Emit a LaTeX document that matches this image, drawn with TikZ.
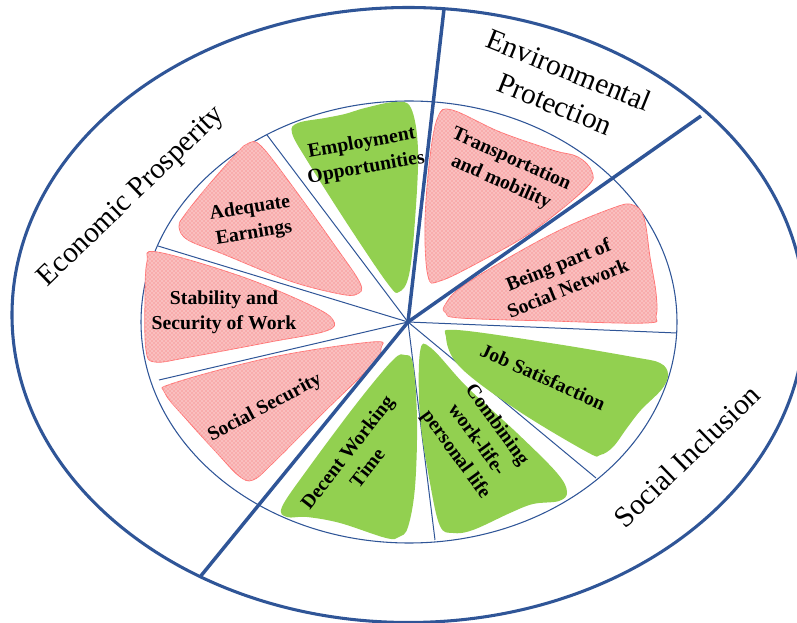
\documentclass[tikz,border=0pt]{standalone}
\usepackage{fontspec}
\setmainfont{Liberation Serif}
\usepackage{tikz}
\usetikzlibrary{patterns}
\definecolor{dwblue}{RGB}{47,85,151}
\definecolor{dwgreen}{RGB}{146,208,80}
\definecolor{dwrose}{RGB}{248,172,172}
\definecolor{dwroseline}{RGB}{255,118,118}
\tikzset{
  dwring/.style={draw=dwblue, line width=2.3pt},
  dwrim/.style={draw=dwblue, line width=0.8pt},
  dwsplit/.style={draw=dwblue, line width=2.6pt},
  dwspoke/.style={draw=dwblue, line width=0.75pt},
  dwgood/.style={fill=dwgreen},
  dwlack/.style={fill=dwrose, postaction={pattern=crosshatch dots, pattern color=white},
                 draw=dwroseline, line width=0.6pt},
  dwitem/.style={font=\fontsize{14.8}{19}\selectfont\bfseries, align=center, inner sep=0pt},
  dwpillar/.style={font=\fontsize{22}{27.5}\selectfont, align=center, inner sep=0pt},
}

\begin{document}
\begin{tikzpicture}[x=0.75pt, y=-0.75pt]
  \useasboundingbox (0,0) rectangle (797,623);
  \coordinate (hub) at (408,322);

  \draw[dwring] (408.5,315) ellipse [x radius=396.5, y radius=307.5];
  \draw[dwrim] (409,322) ellipse [x radius=268, y radius=221];

  \foreach \ex/\ey in {267/135, 158/246, 159/380, 677/333, 596/478, 435/540}
    \draw[dwspoke] (hub) -- (\ex,\ey);

  \path[dwgood] plot[smooth cycle, tension=0.6] coordinates {
    (292,133) (298,123) (325,118) (345,114) (365,108) (395,102) (411,108) (418,150)
    (415,220) (409,275) (399,292) (388,284) (350,228) (308,162)};
  \path[dwlack] plot[smooth cycle, tension=0.6] coordinates {
    (438,117) (452,110) (500,132) (552,150) (578,157) (592,172) (586,188)
    (533,231) (483,260) (440,281) (428,276) (425,223) (430,157)};
  \path[dwlack] plot[smooth cycle, tension=0.6] coordinates {
    (445,305) (467,283) (550,235) (613,208) (633,205) (644,218) (650,257)
    (656,293) (656,316) (646,323) (550,321) (460,318) (446,313)};
  \path[dwgood] plot[smooth cycle, tension=0.6] coordinates {
    (446,337) (457,330) (550,343) (633,357) (660,363) (668,374) (662,389)
    (641,410) (627,428) (613,447) (600,455) (587,452) (517,410) (460,367)};
  \path[dwgood] plot[smooth cycle, tension=0.6] coordinates {
    (420,352) (431,348) (467,387) (517,433) (557,473) (567,492) (559,501)
    (533,504) (510,513) (473,530) (453,533) (440,526) (430,483) (420,417)};
  \path[dwgood] plot[smooth cycle, tension=0.6] coordinates {
    (405,355) (413,364) (417,420) (415,487) (408,527) (399,537) (386,538)
    (340,523) (307,517) (287,517) (282,507) (307,470) (357,403) (393,360)};
  \path[dwlack] plot[smooth cycle, tension=0.6] coordinates {
    (165,393) (174,383) (273,357) (372,342) (381,348) (373,364) (323,413)
    (273,463) (253,480) (239,476) (217,453) (187,420)};
  \path[dwlack] plot[smooth cycle, tension=0.6] coordinates {
    (147,262) (157,252) (240,276) (310,305) (333,320) (326,331) (270,342)
    (190,357) (155,362) (146,350) (145,300)};
  \path[dwlack] plot[smooth cycle, tension=0.6] coordinates {
    (249,143) (261,146) (290,183) (333,243) (360,283) (357,294) (340,294)
    (290,281) (223,254) (188,240) (179,227) (184,216) (207,187) (237,153)};

  \coordinate (envTop) at (444,9);
  \coordinate (envSoc) at (701,116);
  \coordinate (ecoSoc) at (200,577);
  \draw[dwsplit] (hub) -- (envTop);
  \draw[dwsplit] (hub) -- (envSoc);
  \draw[dwsplit] (hub) -- (ecoSoc);

  \node[dwitem, rotate=10] (tEmp) at (364,156) {Employment\\Opportunities};
  \node[dwitem, rotate=9] (tEarn) at (252,221) {Adequate\\Earnings};
  \node[dwitem] (tStab) at (224,312) {Stability and\\Security of Work};
  \node[dwitem, rotate=28] (tSocSec) at (265,408) {Social Security};
  \node[dwitem, rotate=52] (tTime) at (357,460) {Decent Working\\Time};
  \node[dwitem, rotate=-54] (tComb) at (476,440) {Combining\\work-life-\\personal life};
  \node[dwitem, rotate=-24] (tJob) at (543,377) {Job Satisfaction};
  \node[dwitem, rotate=22] (tNet) at (563,276) {Being part of\\Social Network};
  \node[dwitem, rotate=-24] (tMob) at (506,171) {Transportation\\and mobility};

  \node[dwpillar, rotate=44] (pEco) at (132,197) {Economic Prosperity};
  \node[dwpillar, rotate=-22] (pEnv) at (562,87) {Environmental\\Protection};
  \node[dwpillar, rotate=44] (pSoc) at (687,456) {Social Inclusion};
\end{tikzpicture}
\end{document}
